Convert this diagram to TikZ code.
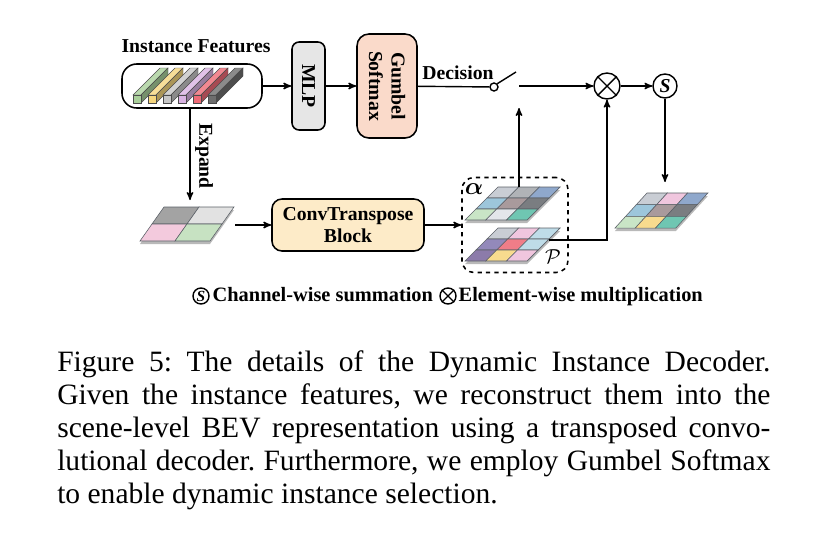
\documentclass[tikz,border=0pt]{standalone}
\usepackage{amsmath}
\usepackage{amssymb}
\usepackage{fontspec}
\setmainfont{Liberation Serif}
\usetikzlibrary{shapes,arrows,positioning,calc}

\definecolor{mlpgray}{HTML}{E6E6E6}
\definecolor{gumbelpeach}{HTML}{FADACA}
\definecolor{convcream}{HTML}{FDEBC8}
\definecolor{cellline}{HTML}{5C6168}
% bars
\definecolor{barGreen}{HTML}{A9CF9A}
\definecolor{barYellow}{HTML}{F5D67E}
\definecolor{barGray}{HTML}{C6C6C6}
\definecolor{barLilac}{HTML}{D9B3E2}
\definecolor{barRed}{HTML}{EE6A76}
\definecolor{barDark}{HTML}{6E6E6E}
% cells
\definecolor{cGrayA}{HTML}{C9CDD4}
\definecolor{cGrayB}{HTML}{B0B3B7}
\definecolor{cBlue}{HTML}{8FA8CC}
\definecolor{cSky}{HTML}{9DC6DB}
\definecolor{cMauve}{HTML}{A99A9C}
\definecolor{cDark}{HTML}{7A7D81}
\definecolor{cMint}{HTML}{C9E5C6}
\definecolor{cWhite}{HTML}{E3E6EA}
\definecolor{cTeal}{HTML}{6FC6B2}
\definecolor{cPink}{HTML}{F0C6DE}
\definecolor{cIce}{HTML}{BFDCE8}
\definecolor{cPurple}{HTML}{9389BA}
\definecolor{cRose}{HTML}{F07D88}
\definecolor{cViolet}{HTML}{8C7BAA}
\definecolor{cButter}{HTML}{F8DB8E}
\definecolor{eDark}{HTML}{A3A3A3}
\definecolor{eLight}{HTML}{E2E2E2}
\definecolor{ePink}{HTML}{F3CADD}
\definecolor{eGreen}{HTML}{C7E2C2}

\newcommand{\lbl}{\fontsize{14}{16}\selectfont\bfseries}
% #1 cells per side, #2/#3 top left corner, #4 cell width, #5 skew per row, #6 row height, #7 colours
\newcommand{\bevgrid}[7]{%
  \fill[gray!55] (#2,#3+3) -- ++(#1*#4,0) -- ++(-#1*#5,#1*#6) -- ++(-#1*#4,0) -- cycle;
  \foreach \c [count=\k from 0] in {#7} {
    \pgfmathtruncatemacro{\gr}{\k/#1}
    \pgfmathtruncatemacro{\gc}{mod(\k,#1)}
    \filldraw[fill=\c, draw=cellline, line width=0.4pt] (#2+\gc*#4-\gr*#5, #3+\gr*#6) -- ++(#4,0) -- ++(-#5,#6) -- ++(-#4,0) -- cycle;
  }
}

\tikzstyle{tag} = [inner sep=1pt, font=\lbl]
\tikzstyle{featbox} = [rectangle, rounded corners=0.37cm, minimum width=3.5cm, minimum height=1.1cm, draw=black, line width=1.1pt]
\tikzstyle{vblock} = [rectangle, rotate=-90, draw=black, line width=1.1pt, align=center, font=\lbl]
\tikzstyle{process} = [rectangle, rounded corners=0.25cm, minimum width=3.8cm, minimum height=1.3cm, align=center, draw=black, line width=1.1pt, fill=convcream, font=\lbl]
\tikzstyle{op} = [circle, draw=black, line width=1pt, inner sep=0pt]
\tikzstyle{line} = [line width=1pt]
\tikzstyle{arrow} = [line width=1pt,->,>=stealth']

\begin{document}
\frenchspacing
\begin{tikzpicture}[x=0.025cm, y=-0.025cm]
        \fill[white] (0,0) rectangle (830,540);
        \useasboundingbox (0,0) rectangle (830,540);

        % Blocks
        \node (inst) [featbox] at (192,86) {};
        \node (instlabel) [tag, anchor=base] at (196,52) {Instance Features};
        \node (mlp) [vblock, fill=mlpgray, rounded corners=0.18cm, minimum width=2.2cm, minimum height=0.825cm] at (308.5,86) {MLP};
        \node (gumbel) [vblock, fill=gumbelpeach, rounded corners=0.3cm, minimum width=2.6cm, minimum height=1.5cm] at (387,86) {Gumbel\\Softmax};
        \node (sw) [op, minimum size=0.2cm, fill=white] at (494,87) {};
        \node (dec) [tag, anchor=base] at (458,79) {Decision};
        \node (mul) [op, minimum size=0.65cm] at (607,86) {};
        \node (sum) [op, minimum size=0.6cm, font=\lbl\itshape] at (665,86) {S};
        \node (conv) [process] at (348,225) {ConvTranspose\\Block};
        \node (sel) [rectangle, rounded corners=0.3cm, draw=black, line width=1.1pt, dashed, minimum width=2.65cm, minimum height=2.375cm] at (515,225) {};
        \node (expand) [tag, rotate=-90] at (204,156) {Expand};

        % Instance features
        \foreach \c [count=\k from 0] in {barGreen,barYellow,barGray,barLilac,barRed,barDark} {
            \pgfmathsetmacro{\bx}{133+15*\k}
            \filldraw[fill=\c!80!white, draw=gray!60!black, line width=0.3pt] (\bx,95) -- ++(27,-27) -- ++(8,0) -- ++(-27,27) -- cycle;
            \filldraw[fill=\c!70!black, draw=gray!60!black, line width=0.3pt] (\bx+8,95) -- ++(27,-27) -- ++(0,8) -- ++(-27,27) -- cycle;
            \filldraw[fill=\c, draw=gray!60!black, line width=0.3pt] (\bx,95) rectangle ++(8,8);
        }

        % Grids
        \bevgrid{2}{164}{207}{35}{12}{17}{eDark,eLight,ePink,eGreen}
        \bevgrid{3}{498}{187}{20.7}{11}{11}{cGrayA,cGrayB,cBlue,cSky,cMauve,cDark,cMint,cWhite,cTeal}
        \bevgrid{3}{498}{228}{20.7}{11}{11}{cGrayA,cPink,cIce,cPurple,cRose,cIce,cViolet,cButter,cPink}
        \bevgrid{3}{647}{193}{20.3}{10.7}{11.7}{cGrayA,cPink,cBlue,cSky,cMauve,cDark,cMint,cButter,cTeal}
        \node (alpha) at (474,189) {\fontsize{17}{18}\selectfont$\boldsymbol{\alpha}$};
        \node (pset) at (553,257) {\fontsize{15}{16}\selectfont$\mathcal{P}$};

        \coordinate (lever) at (516,72);
        \coordinate (contact) at (519,86);
        \coordinate (gate) at (519,108);
        \coordinate (alphaTop) at (519,187);
        \coordinate (pOut) at (549,240);
        \coordinate (outTop) at (665,182);
        \coordinate (expIn) at (190,200);
        \coordinate (expOut) at (235,225);

        % Lines
        \draw [arrow] (inst) -- (mlp);
        \draw [arrow] (mlp) -- (gumbel);
        \draw [line] (gumbel) -- (sw);
        \draw [line] (sw.north east) -- (lever);
        \draw [arrow] (contact) -- (mul);
        \draw [arrow] (mul) -- (sum);
        \draw [line] (mul.north west) -- (mul.south east);
        \draw [line] (mul.north east) -- (mul.south west);
        \draw [arrow] (alphaTop) -- (gate);
        \draw [arrow] (pOut) -| (mul);
        \draw [arrow] (sum) -- (outTop);
        \draw [arrow] (inst.south -| expIn) -- (expIn);
        \draw [arrow] (expOut) -- (conv);
        \draw [arrow] (conv) -- (sel);

        % Legend
        \node (legS) [op, minimum size=0.4cm, font=\fontsize{11}{12}\selectfont\bfseries\itshape] at (201,296) {S};
        \node (legSText) [tag, anchor=base west, font=\fontsize{14.5}{16}\selectfont\bfseries] at (211,301) {Channel-wise summation};
        \node (legX) [op, minimum size=0.4cm] at (448,296) {};
        \draw [line width=0.8pt] (legX.north west) -- (legX.south east);
        \draw [line width=0.8pt] (legX.north east) -- (legX.south west);
        \node (legXText) [tag, anchor=base west, font=\fontsize{14.5}{16}\selectfont\bfseries] at (457,301) {Element-wise multiplication};

        % Caption
        \node (caption) [anchor=north west, inner sep=0pt, text width=17.825cm, align=justify, font=\fontsize{21}{23.5}\selectfont] at (57,350) {Figure 5: The details of the Dynamic Instance Decoder.\linebreak Given the instance features, we reconstruct them into the\linebreak scene-level BEV representation using a transposed convo-\linebreak lutional decoder. Furthermore, we employ Gumbel Softmax\linebreak to enable dynamic instance selection.};
    \end{tikzpicture}
\end{document}
